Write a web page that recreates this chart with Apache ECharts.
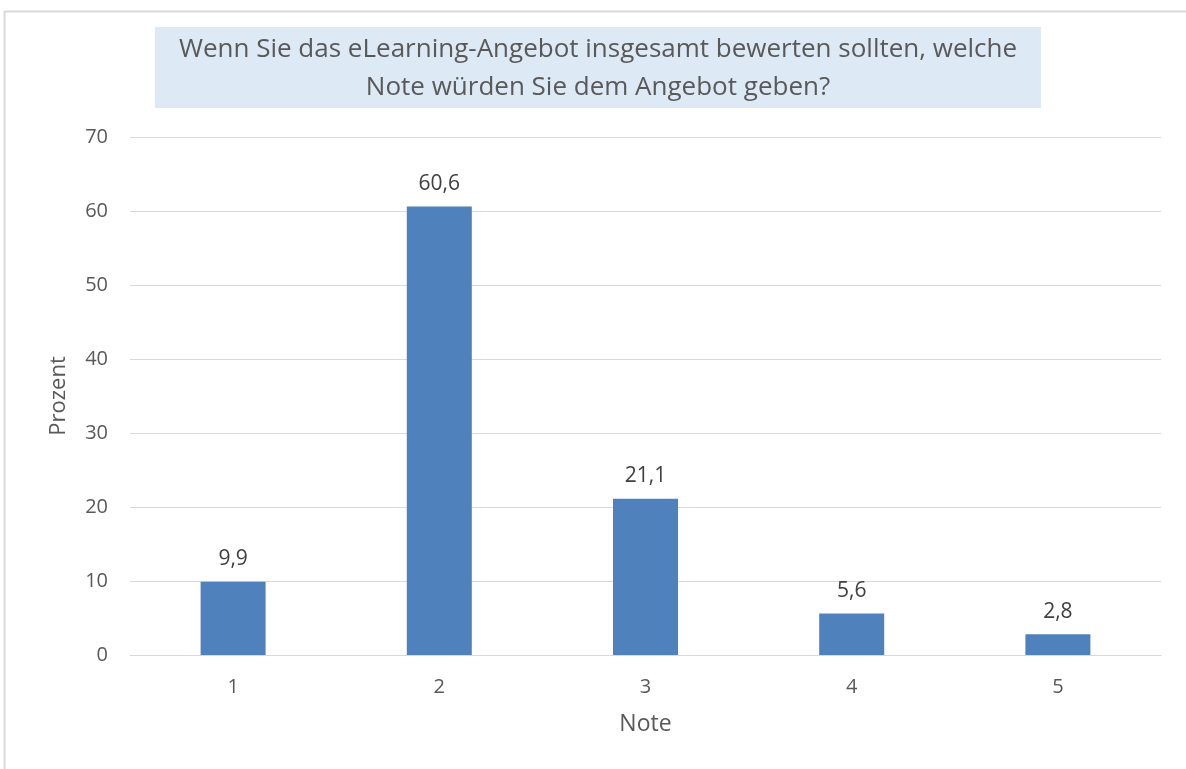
<!DOCTYPE html>
<html>
<head>
<meta charset="utf-8">
<script src="https://cdn.jsdelivr.net/npm/echarts@6/dist/echarts.min.js"></script>
<style>
  html, body { margin: 0; padding: 0; background: #fff; }
  #main { width: 1186px; height: 769px; }
</style>
</head>
<body>
<div id="main"></div>
<script>
// Daten
const noten = ['1', '2', '3', '4', '5'];
const prozent = [9.9, 60.6, 21.1, 5.6, 2.8];
const yTicks = [0, 10, 20, 30, 40, 50, 60, 70];

const titleLines = [
  'Wenn Sie das eLearning-Angebot insgesamt bewerten sollten, welche',
  'Note würden Sie dem Angebot geben?'
];

const FONT = '"Open Sans", Lato, sans-serif';

let chart = echarts.init(document.getElementById('main'));

let option = {
  animation: false,
  textStyle: { fontFamily: FONT },
  graphic: [
    { // Rahmen
      type: 'rect',
      shape: { x: 4.5, y: 11.5, width: 1200, height: 800 },
      style: { fill: 'none', stroke: '#d9d9d9', lineWidth: 2 },
      silent: true
    },
    { // Titelbox
      type: 'rect',
      shape: { x: 155, y: 27, width: 886, height: 81 },
      style: { fill: '#dde9f5' },
      silent: true
    },
    {
      type: 'text',
      x: 598, y: 69,
      style: {
        text: titleLines.join('\n'),
        fill: '#595959',
        font: '26px ' + FONT,
        align: 'center',
        verticalAlign: 'middle',
        lineHeight: 38
      },
      silent: true
    }
  ],
  grid: {
    left: 130,
    right: 25,
    top: 137,
    bottom: 114
  },
  xAxis: {
    type: 'category',
    data: noten,
    name: 'Note',
    nameLocation: 'middle',
    nameGap: 58,
    nameTextStyle: { fontSize: 23, color: '#595959', fontFamily: FONT },
    axisLine: { lineStyle: { color: '#d9d9d9', width: 1 } },
    axisTick: { show: false },
    axisLabel: { fontSize: 20, color: '#595959', margin: 22, fontFamily: FONT },
  },
  yAxis: {
    type: 'value',
    min: yTicks[0],
    max: yTicks[yTicks.length - 1],
    interval: 10,
    name: 'Prozent',
    nameLocation: 'middle',
    nameGap: 60,
    nameRotate: 90,
    nameTextStyle: { fontSize: 22, color: '#595959', fontFamily: FONT },
    axisLine: { show: false },
    axisTick: { show: false },
    axisLabel: { fontSize: 20, color: '#595959', margin: 22, fontFamily: FONT },
    splitLine: { lineStyle: { color: '#d9d9d9', width: 1 } }
  },
  series: [
    {
      name: 'Prozent',
      type: 'bar',
      data: prozent,
      barWidth: 65,
      itemStyle: { color: '#4f81bd' },
      label: {
        show: true,
        position: 'top',
        distance: 12,
        fontSize: 21,
        color: '#404040',
        fontFamily: FONT,
        formatter: p => String(p.value).replace('.', ',')
      }
    }
  ]
};

chart.setOption(option);
</script>
</body>
</html>
